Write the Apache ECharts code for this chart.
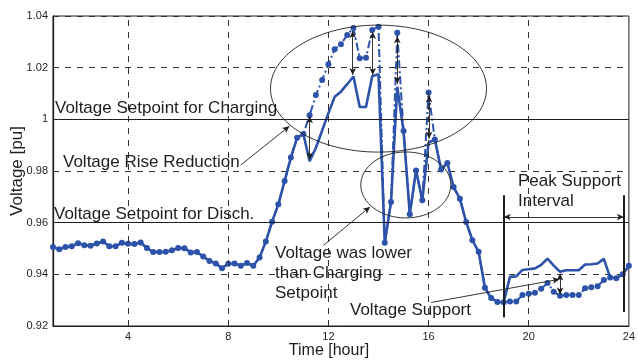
<!DOCTYPE html>
<html><head><meta charset="utf-8">
<script src="https://cdn.jsdelivr.net/npm/echarts@6/dist/echarts.min.js"></script>
<style>html,body{margin:0;padding:0;background:#fff}#c{width:638px;height:360px}</style>
</head><body><div id="c"></div>
<script>
// ---- data ----
const hours = [
 1,1.25,1.5,1.75, 2,2.25,2.5,2.75, 3,3.25,3.5,3.75, 4,4.25,4.5,4.75,
 5,5.25,5.5,5.75, 6,6.25,6.5,6.75, 7,7.25,7.5,7.75, 8,8.25,8.5,8.75,
 9,9.25,9.5,9.75, 10,10.25,10.5,10.75, 11,11.25,11.5,11.75, 12,12.25,12.5,12.75,
 13,13.25,13.5,13.75, 14,14.25,14.5,14.75, 15,15.25,15.5,15.75, 16,16.25,16.5,16.75,
 17,17.25,17.5,17.75, 18,18.25,18.5,18.75, 19,19.25,19.5,19.75, 20,20.25,20.5,20.75,
 21,21.25,21.5,21.75, 22,22.25,22.5,22.75, 23,23.25,23.5,23.75, 24
];
// dash-dot with markers (no storage control)
const voltageWithout = [
 0.9506,0.9497,0.9506,0.9509, 0.9520,0.9513,0.9511,0.9519, 0.9527,0.9509,0.9509,0.9522, 0.9518,0.9517,0.9523,0.9502,
 0.9486,0.9486,0.9487,0.9493, 0.9502,0.9501,0.9485,0.9486, 0.9469,0.9452,0.9442,0.9424, 0.9441,0.9442,0.9433,0.9444,
 0.9433,0.9465,0.9527,0.9604, 0.9671,0.9761,0.9852,0.9929, 0.9943,1.0016,1.0094,1.0152, 1.0213,1.0271,1.0291,1.0326,
 1.0354,1.0236,1.0238,1.0346, 1.0358,0.9522,0.9680,1.0335, 0.9955,0.9633,0.9802,0.9687, 1.0104,0.9922,0.9806,0.9831,
 0.9738,0.9693,0.9603,0.9532, 0.9487,0.9348,0.9308,0.9293, 0.9292,0.9295,0.9295,0.9320, 0.9325,0.9329,0.9344,0.9366,
 0.9333,0.9317,0.9320,0.9320, 0.9320,0.9346,0.9350,0.9354, 0.9378,0.9388,0.9385,0.9400, 0.9433
];
// solid line (with storage control)
const voltageWith = [
 0.9506,0.9497,0.9506,0.9509, 0.9520,0.9513,0.9511,0.9519, 0.9527,0.9509,0.9509,0.9522, 0.9518,0.9517,0.9523,0.9502,
 0.9486,0.9486,0.9487,0.9493, 0.9502,0.9501,0.9485,0.9486, 0.9469,0.9452,0.9442,0.9424, 0.9441,0.9442,0.9433,0.9444,
 0.9433,0.9465,0.9527,0.9604, 0.9671,0.9761,0.9852,0.9929, 0.9943,0.9838,0.9890,0.9957, 1.0024,1.0087,1.0107,1.0136,
 1.0166,1.0048,1.0048,1.0167, 1.0175,0.9522,0.9680,1.0126, 0.9955,0.9633,0.9802,0.9687, 0.9910,0.9922,0.9806,0.9831,
 0.9738,0.9693,0.9603,0.9532, 0.9487,0.9348,0.9308,0.9293, 0.9292,0.9390,0.9392,0.9417, 0.9420,0.9423,0.9437,0.9461,
 0.9434,0.9410,0.9416,0.9416, 0.9416,0.9438,0.9439,0.9442, 0.9460,0.9388,0.9385,0.9400, 0.9433
];
const xTickLabels = [4, 8, 12, 16, 20, 24];
const yTicks = [0.92, 0.94, 0.96, 0.98, 1.0, 1.02, 1.04];
const setpoints = [1.0, 0.96];
// annotation arrows in data units [h1,v1,h2,v2]
const reductionArrows = [
 [11.25,1.0012,11.25,0.9845],[12.97,1.0342,12.97,1.0172],[13.77,1.0338,13.77,1.0172],
 [14.75,1.0322,14.75,1.0138],[16.02,1.0092,16.02,0.9925],[21.25,0.9403,21.25,0.9322],
 [19.0,0.9622,23.8,0.9622]
];
const pointerArrows = [
 [8.49,0.98225,10.44,0.99737],[11.80,0.9512,13.66,0.9661],[16.10,0.9291,21.23,0.9381]
];
const intervalBounds = [[19.0,0.9706,19.0,0.9233],[23.8,0.9706,23.8,0.9254]];

// ---- chart ----
const FONT = "'Liberation Sans', Arial, Helvetica, sans-serif";
const BLUE = '#2d52aa';
const INK = '#1e1e1e';
const chart = echarts.init(document.getElementById('c'), null, {renderer:'canvas'});
const pairs = (a, b) => a.map((x, i) => [x, b[i]]);
const seg = (r, extra) => [Object.assign({coord:[r[0], r[1]]}, extra && extra[0]), Object.assign({coord:[r[2], r[3]]}, extra && extra[1])];

chart.setOption({
  animation: false,
  backgroundColor: '#fff',
  grid: {left: 53, right: 7, top: 16, bottom: 34, show: true, borderColor: INK, borderWidth: 1, containLabel: false},
  xAxis: {
    type: 'value', min: 1, max: 24, interval: 1,
    axisLine: {show: true, lineStyle: {color: INK, width: 1}},
    axisTick: {show: false},
    splitLine: {show: false},
    axisLabel: {
      color: INK, fontFamily: FONT, fontSize: 11, margin: 5, showMinLabel: true, showMaxLabel: true,
      formatter: v => xTickLabels.indexOf(v) >= 0 ? String(v) : ''
    }
  },
  yAxis: {
    type: 'value', min: yTicks[0], max: yTicks[yTicks.length - 1], interval: 0.02,
    axisLine: {show: true, lineStyle: {color: INK, width: 1.3}},
    axisTick: {show: false},
    splitLine: {show: true, lineStyle: {color: '#333', width: 1, type: [6, 6]}},
    axisLabel: {color: INK, fontFamily: FONT, fontSize: 11, margin: 5,
      formatter: v => String(Math.round(v * 100) / 100)}
  },
  series: [
    { // gridlines & setpoint lines (under data)
      type: 'line', data: [], z: 1, silent: true,
      markLine: {
        silent: true, symbol: 'none', label: {show: false}, animation: false,
        data: xTickLabels.filter(v => v < 24).map(v => ({xAxis: v, lineStyle: {color: '#333', width: 1, type: [6, 6]}}))
          .concat(setpoints.map(v => ({yAxis: v, lineStyle: {color: INK, width: 1.1, type: 'solid'}})))
      }
    },
    {
      name: 'without', type: 'line', data: pairs(hours, voltageWithout), z: 3,
      symbol: 'circle', symbolSize: 6, showSymbol: true,
      itemStyle: {color: BLUE},
      lineStyle: {color: BLUE, width: 2, type: [8, 3, 2, 3]}
    },
    {
      name: 'with', type: 'line', data: pairs(hours, voltageWith), z: 4,
      symbol: 'none', showSymbol: false,
      lineStyle: {color: BLUE, width: 2.6, type: 'solid'}
    },
    { // annotation arrows
      type: 'line', data: [], z: 6, silent: true,
      markLine: {
        silent: true, label: {show: false}, animation: false,
        lineStyle: {color: INK, width: 0.9, type: 'solid'},
        symbol: ['arrow', 'arrow'], symbolSize: [5, 7],
        data: reductionArrows.map(r => seg(r))
          .concat(pointerArrows.map(r => seg(r, [{symbol: 'none'}, {symbol: 'arrow'}])))
          .concat(intervalBounds.map(r => seg(r, [{symbol: 'none', lineStyle: {width: 2, color: INK}}, {symbol: 'none'}])))
      }
    }
  ]
});

const txt = (s, x, y, size, extra) => Object.assign({
  type: 'text', x: x, y: y, z: 100, silent: true,
  style: {text: s, font: size + 'px ' + FONT, fill: INK, verticalAlign: 'middle', align: 'left'}
}, extra || {});
const center = (h, v) => chart.convertToPixel({xAxisIndex: 0, yAxisIndex: 0}, [h, v]);
const c1 = center(14.0, 1.0119), c2 = center(15.09, 0.9746);
chart.setOption({
  graphic: [
    {type: 'ellipse', z: 90, silent: true, shape: {cx: c1[0], cy: c1[1], rx: 108, ry: 63.5}, style: {fill: 'none', stroke: INK, lineWidth: 0.9}},
    {type: 'ellipse', z: 90, silent: true, shape: {cx: c2[0], cy: c2[1], rx: 45, ry: 33}, style: {fill: 'none', stroke: INK, lineWidth: 0.9}},
    txt('Voltage Setpoint for Charging', 55, 108, 17),
    txt('Voltage Rise Reduction', 63, 162, 17),
    txt('Voltage Setpoint for Disch.', 54, 214, 17),
    txt('Voltage was lower', 275, 253, 17),
    txt('than Charging', 275, 273, 17),
    txt('Setpoint', 275, 293, 17),
    txt('Voltage Support', 350, 310, 17),
    txt('Peak Support', 518, 181, 17),
    txt('Interval', 518, 201, 17),
    {type: 'text', x: 329, y: 351, z: 100, silent: true,
     style: {text: 'Time [hour]', font: '16px ' + FONT, fill: INK, align: 'center', verticalAlign: 'middle'}},
    {type: 'text', x: 17, y: 171, z: 100, silent: true, rotation: Math.PI / 2,
     style: {text: 'Voltage [pu]', font: '17px ' + FONT, fill: INK, align: 'center', verticalAlign: 'middle'}}
  ]
});
</script></body></html>
